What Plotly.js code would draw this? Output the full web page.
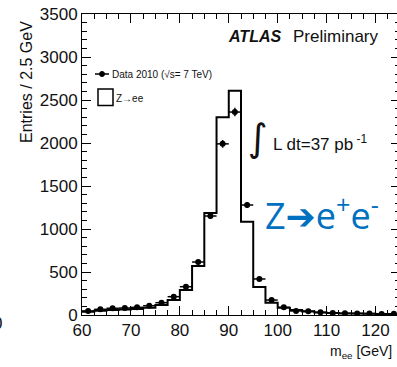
<!DOCTYPE html>
<html><head><meta charset="utf-8">
<script src="https://cdn.plot.ly/plotly-3.0.1.min.js"></script>
<style>html,body{margin:0;padding:0;overflow:hidden;background:#fff}</style>
</head><body><div id="chart"></div>
<script>
// bin centres (GeV), bin width 2.5 GeV
const massBins = [61.25,63.75,66.25,68.75,71.25,73.75,76.25,78.75,81.25,83.75,86.25,88.75,91.25,93.75,96.25,98.75,101.25,103.75,106.25,108.75,111.25,113.75,116.25,118.75,121.25,123.75];
const dataCounts = [47,66,78,81,89,108,143,213,329,616,1151,1990,2360,1279,419,174,89,47,45,31,22,20,18,17,13,15];
const mcCounts = [39,48,57,63,70,85,116,174,291,570,1186,2300,2608,1085,326,143,85,58,40,28,22,18,16,14,13,12];
const halfWidth = 1.25;
const yTicks = [0,500,1000,1500,2000,2500,3000,3500];
const xTicks = [60,70,80,90,100,110,120];

// step histogram edges
const stepX = massBins.map(c => c - halfWidth).concat([massBins[massBins.length-1] + halfWidth]);
const stepY = mcCounts.concat([mcCounts[mcCounts.length-1]]);

const traces = [
  {x: stepX, y: stepY, type:'scatter', mode:'lines', line:{shape:'hv', color:'#000', width:2}, hoverinfo:'skip'},
  {x: massBins, y: dataCounts, type:'scatter', mode:'markers',
   marker:{color:'#000', size:6},
   error_x:{type:'constant', value:halfWidth, width:0, color:'#000', thickness:1.5},
   error_y:{type:'sqrt', width:0, color:'#000', thickness:1.5}}
];

const F = 'Liberation Sans, Arial, sans-serif';
const px = v => (v-82)/318;
const py = v => (315-v)/301;

const layout = {
  width: 400, height: 367,
  margin:{l:82, r:0, t:14, b:52},
  paper_bgcolor:'#fff', plot_bgcolor:'#fff',
  showlegend:false,
  font:{family:F, color:'#111'},
  xaxis:{range:[60,125], tickvals:xTicks, ticktext:xTicks.map(String), ticks:'inside', ticklen:9, tickwidth:1,
    tickcolor:'#000', showline:true, linecolor:'#000', linewidth:1, mirror:'ticks', showgrid:false, zeroline:false,
    tickfont:{size:17, family:F, color:'#111'},
    minor:{dtick:2.5, ticks:'inside', ticklen:5, tickcolor:'#000', showgrid:false}},
  yaxis:{range:[0,3500], tickvals:yTicks, ticktext:yTicks.map(String), ticks:'inside', ticklen:9, tickwidth:1,
    tickcolor:'#000', showline:true, linecolor:'#000', linewidth:1, mirror:'ticks', showgrid:false, zeroline:false,
    tickfont:{size:17, family:F, color:'#111'},
    minor:{dtick:100, ticks:'inside', ticklen:5, tickcolor:'#000', showgrid:false}},
  shapes:[
    {type:'line', xref:'paper', yref:'paper', x0:px(95), x1:px(109), y0:py(74), y1:py(74), line:{color:'#000', width:1.5}},
    {type:'circle', xref:'paper', yref:'paper', x0:px(99.5), x1:px(104.5), y0:py(71.5), y1:py(76.5), fillcolor:'#000', line:{color:'#000', width:1}},
    {type:'rect', xref:'paper', yref:'paper', x0:px(98), x1:px(113), y0:py(89), y1:py(105.5), line:{color:'#000', width:1.5}, fillcolor:'rgba(0,0,0,0)'}
  ],
  annotations:[
    {text:'Data 2010 (√s= 7 TeV)', xref:'paper', yref:'paper', x:px(110), y:py(74), xanchor:'left', yanchor:'middle', showarrow:false, font:{size:10, family:F, color:'#111'}},
    {text:'Z→ee', xref:'paper', yref:'paper', x:px(114), y:py(98), xanchor:'left', yanchor:'middle', showarrow:false, font:{size:10, family:F, color:'#111'}},
    {text:'<b><i>ATLAS</i></b>', xref:'paper', yref:'paper', x:px(226), y:py(37), xanchor:'left', yanchor:'middle', showarrow:false, font:{size:16, family:F, color:'#111'}},
    {text:'Preliminary', xref:'paper', yref:'paper', x:px(291), y:py(37), xanchor:'left', yanchor:'middle', showarrow:false, font:{size:17, family:F, color:'#111'}},
    {text:'∫', xref:'paper', yref:'paper', x:px(258), y:py(138), xanchor:'center', yanchor:'middle', showarrow:false, font:{size:38, family:'DejaVu Sans', color:'#111'}},
    {text:'L dt=37 pb<sup> -1</sup>', xref:'paper', yref:'paper', x:px(271), y:py(143), xanchor:'left', yanchor:'middle', showarrow:false, font:{size:17, family:F, color:'#111'}},
    {text:'Z<span style="font-family:DejaVu Sans">➔</span>e<sup>+</sup>e<sup>-</sup>', xref:'paper', yref:'paper', x:px(263), y:py(213), xanchor:'left', yanchor:'middle', showarrow:false, font:{size:36, family:'Open Sans, sans-serif', color:'#0070C0'}},
    {text:'Entries / 2.5 GeV', xref:'paper', yref:'paper', x:px(26), y:py(82), xanchor:'center', yanchor:'middle', textangle:-90, showarrow:false, font:{size:16, family:F, color:'#111'}},
    {text:'m<sub>ee</sub> [GeV]', xref:'paper', yref:'paper', x:px(394), y:py(352), xanchor:'right', yanchor:'middle', showarrow:false, font:{size:14, family:F, color:'#111'}},
    {text:'0', xref:'paper', yref:'paper', x:px(4), y:py(323), xanchor:'right', yanchor:'middle', showarrow:false, font:{size:17, family:F, color:'#111'}}
  ]
};
Plotly.newPlot('chart', traces, layout, {displayModeBar:false, staticPlot:true});
</script></body></html>
